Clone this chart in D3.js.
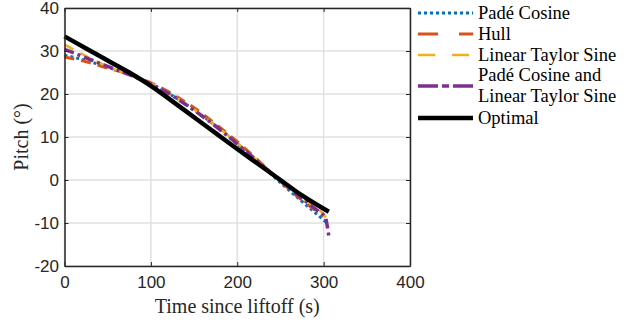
<!DOCTYPE html>
<html>
<head>
<meta charset="utf-8">
<script src="https://cdn.jsdelivr.net/npm/d3@7"></script>
<style>
  body { margin: 0; background: #fff; }
  svg { display: block; font-family: "Liberation Serif", "Times New Roman", serif; }
</style>
</head>
<body>
<script>
var w = 633, h = 322;
var margin = { left: 64.5, top: 8, right: 223, bottom: 56 };

// series: [time (s), pitch (deg)]
var padeCos = [[0, 29], [25, 27.8], [50, 26.2], [75, 24.6], [100, 22.4], [125, 19.6], [150, 16.3], [175, 12.6], [200, 8.4], [225, 4], [250, -0.6], [275, -5], [300, -9.3], [304, -10]];
var hull = [[0, 28.6], [25, 27.5], [50, 26], [75, 24.6], [100, 22.6], [125, 20], [150, 16.8], [175, 13], [200, 8.9], [225, 4.4], [250, -0.3], [275, -4.7], [300, -8.4]];
var linTaylor = [[0, 31.5], [25, 28.8], [50, 26.4], [75, 24.4], [100, 22.4], [125, 19.7], [150, 16.4], [175, 12.7], [200, 8.6], [225, 4.2], [250, -0.1], [275, -4.2], [300, -8], [303, -8.8]];
var padeLin = [[0, 30.4], [25, 28.4], [50, 26.4], [75, 24.5], [100, 22.3], [125, 19.6], [150, 16.2], [175, 12.5], [200, 8.4], [225, 4.1], [250, -0.2], [275, -4.3], [296, -7.6], [302, -8.6], [304, -10.5], [306, -13]];
var optimal = [[0, 33.4], [25, 30.6], [50, 27.8], [75, 25], [100, 21.9], [125, 18.3], [150, 14.6], [175, 10.9], [200, 7.2], [225, 3.6], [250, 0], [275, -3.6], [306, -7.4]];

var names = ['Padé Cosine', 'Hull', 'Linear Taylor Sine', 'Padé Cosine and\nLinear Taylor Sine', 'Optimal'];
var xTicks = [0, 100, 200, 300, 400];
var yTicks = [-20, -10, 0, 10, 20, 30, 40];

var series = [
  { data: padeCos, color: '#0072BD', width: 3, dash: '3,3', legDash: '3,3' },
  { data: hull, color: '#D95319', width: 3, dash: '10,7', legDash: '20,21' },
  { data: linTaylor, color: '#EDB120', width: 2.5, dash: '10,8', legDash: '17,17' },
  { data: padeLin, color: '#7E2F8E', width: 3.5, dash: '10,4,3,4', legDash: '20,4,7,4' },
  { data: optimal, color: '#000000', width: 4.5, dash: null, legDash: null }
];

var svg = d3.select('body').append('svg')
  .attr('width', w)
  .attr('height', h);

var x = d3.scaleLinear().domain([0, 400]).range([margin.left, w - margin.right]);
var y = d3.scaleLinear().domain([-20, 40]).range([h - margin.bottom, margin.top]);

// grid
svg.append('g').selectAll('line')
  .data(xTicks)
  .enter().append('line')
  .attr('x1', function(d) { return x(d); })
  .attr('x2', function(d) { return x(d); })
  .attr('y1', y(-20)).attr('y2', y(40))
  .attr('stroke', '#e1e1e1').attr('stroke-width', 1.5);
svg.append('g').selectAll('line')
  .data(yTicks)
  .enter().append('line')
  .attr('y1', function(d) { return y(d); })
  .attr('y2', function(d) { return y(d); })
  .attr('x1', x(0)).attr('x2', x(400))
  .attr('stroke', '#e1e1e1').attr('stroke-width', 1.5);

var line = d3.line()
  .x(function(d) { return x(d[0]); })
  .y(function(d) { return y(d[1]); })
  .curve(d3.curveMonotoneX);

var plot = svg.append('g');
series.forEach(function(s) {
  plot.append('path')
    .datum(s.data)
    .attr('d', line)
    .attr('fill', 'none')
    .attr('stroke', s.color)
    .attr('stroke-width', s.width)
    .attr('stroke-dasharray', s.dash);
});

// axes, ticks inward like matlab, plain hyphen minus
var fmt = function(d) { return String(d); };
var axB = svg.append('g').attr('transform', 'translate(0,' + y(-20) + ')')
  .call(d3.axisBottom(x).tickValues(xTicks).tickSizeInner(-4).tickSizeOuter(0).tickPadding(10).tickFormat(fmt));
var axL = svg.append('g').attr('transform', 'translate(' + x(0) + ',0)')
  .call(d3.axisLeft(y).tickValues(yTicks).tickSizeInner(-4).tickSizeOuter(0).tickPadding(5.5).tickFormat(fmt));
var axT = svg.append('g').attr('transform', 'translate(0,' + y(40) + ')')
  .call(d3.axisTop(x).tickValues(xTicks).tickSizeInner(-4).tickSizeOuter(0).tickFormat(''));
var axR = svg.append('g').attr('transform', 'translate(' + x(400) + ',0)')
  .call(d3.axisRight(y).tickValues(yTicks).tickSizeInner(-4).tickSizeOuter(0).tickFormat(''));

[axB, axL, axT, axR].forEach(function(a) {
  a.select('.domain').attr('stroke', '#262626').attr('stroke-width', 1.5);
  a.selectAll('.tick line').attr('stroke', '#262626').attr('stroke-width', 1);
  a.selectAll('text')
    .attr('fill', '#262626')
    .style('font-family', '"Liberation Sans", Arial, sans-serif')
    .style('font-size', '17px');
});

svg.append('text')
  .attr('x', (x(0) + x(400)) / 2)
  .attr('y', 312.5)
  .attr('text-anchor', 'middle')
  .style('font-size', '20px')
  .attr('fill', '#262626')
  .text('Time since liftoff (s)');

svg.append('text')
  .attr('transform', 'translate(28,' + (y(-20) + y(40)) / 2 + ') rotate(-90)')
  .attr('text-anchor', 'middle')
  .style('font-size', '20px')
  .attr('fill', '#262626')
  .text('Pitch (°)');

// legend, no box
var rowsY = [13, 34, 55, 86, 118];
var leg = svg.append('g');
series.forEach(function(s, i) {
  var ly = rowsY[i];
  leg.append('line')
    .attr('x1', 418).attr('x2', 473)
    .attr('y1', ly).attr('y2', ly)
    .attr('stroke', s.color)
    .attr('stroke-width', s.width)
    .attr('stroke-dasharray', s.legDash);
  var parts = names[i].split('\n');
  var t = leg.append('text')
    .attr('x', 478)
    .attr('y', ly - (parts.length - 1) * 10.25 + 5.5)
    .style('font-size', '18.5px')
    .attr('fill', '#000');
  parts.forEach(function(p, j) {
    t.append('tspan').attr('x', 478).attr('dy', j === 0 ? 0 : 20.5).text(p);
  });
});
</script>
</body>
</html>
